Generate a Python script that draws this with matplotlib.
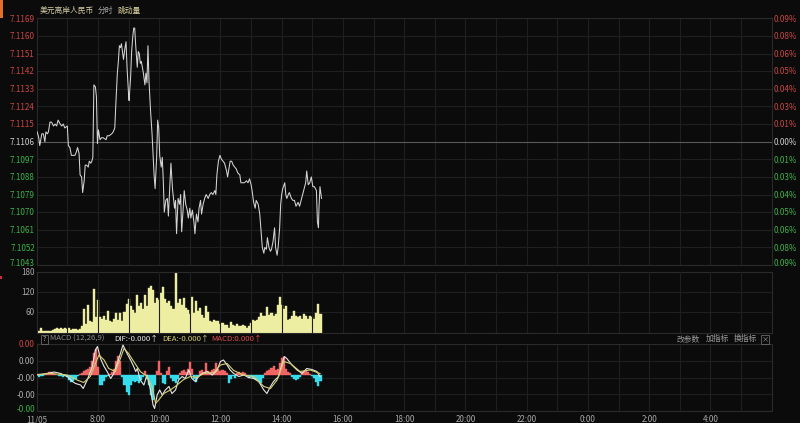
import matplotlib
matplotlib.use('Agg')
import matplotlib.pyplot as plt
from matplotlib.patches import Rectangle
from matplotlib.transforms import offset_copy
import numpy as np

plt.rcParams['font.family'] = ['Noto Sans CJK SC', 'DejaVu Sans']

# ---------------- data (minutes after 06:00 on 11/05) ----------------
price_min = [1, 4, 6, 10, 13, 16, 18, 21, 23, 26,
             29, 33, 36, 39, 42, 46, 49, 52, 55, 60,
             62, 65, 68, 72, 75, 78, 80, 83, 85, 88,
             90, 93, 95, 98, 101, 103, 106, 108, 110, 112,
             115, 117, 119, 121, 124, 127, 130, 136, 138, 142,
             147, 150, 153, 155, 158, 160, 162, 164, 166, 170,
             173, 175, 177, 180, 181, 184, 186, 188, 190, 192,
             194, 197, 199, 201, 203, 205, 209, 211, 212, 214,
             216, 218, 220, 223, 226, 228, 230, 232, 235, 237,
             239, 241, 244, 246, 248, 250, 253, 256, 258, 261,
             263, 266, 268, 270, 272, 274, 277, 280, 282, 284,
             287, 289, 292, 295, 297, 300, 302, 305, 308, 310,
             313, 316, 318, 321, 323, 326, 329, 332, 336, 339,
             342, 345, 349, 351, 353, 356, 359, 362, 365, 368,
             372, 374, 377, 379, 382, 385, 388, 391, 394, 398,
             400, 404, 407, 411, 414, 417, 420, 422, 425, 428,
             430, 434, 437, 439, 442, 445, 447, 450, 452, 455,
             458, 460, 463, 466, 468, 471, 473, 476, 478, 480,
             482, 486, 488, 490, 493, 495, 499, 502, 505, 508,
             512, 515, 518, 522, 524, 527, 529, 532, 535, 538,
             541, 544, 548, 550, 552, 553, 555, 558]
price_val = [7.1111, 7.1108, 7.1104, 7.1110, 7.1110, 7.1106, 7.1111, 7.1110, 7.1111, 7.1116,
             7.1116, 7.1114, 7.1115, 7.1114, 7.1117, 7.1115, 7.1114, 7.1115, 7.1113, 7.1114,
             7.1104, 7.1103, 7.1099, 7.1099, 7.1099, 7.1101, 7.1103, 7.1100, 7.1089, 7.1088,
             7.1080, 7.1086, 7.1094, 7.1094, 7.1093, 7.1096, 7.1095, 7.1096, 7.1098, 7.1135,
             7.1134, 7.1129, 7.1105, 7.1112, 7.1107, 7.1108, 7.1108, 7.1107, 7.1109, 7.1109,
             7.1110, 7.1111, 7.1113, 7.1125, 7.1141, 7.1147, 7.1155, 7.1154, 7.1156, 7.1148,
             7.1154, 7.1157, 7.1144, 7.1130, 7.1127, 7.1139, 7.1152, 7.1159, 7.1164, 7.1164,
             7.1155, 7.1144, 7.1152, 7.1151, 7.1146, 7.1147, 7.1141, 7.1137, 7.1135, 7.1141,
             7.1136, 7.1155, 7.1137, 7.1122, 7.1110, 7.1099, 7.1089, 7.1082, 7.1098, 7.1117,
             7.1113, 7.1099, 7.1093, 7.1098, 7.1086, 7.1070, 7.1076, 7.1077, 7.1068, 7.1084,
             7.1095, 7.1082, 7.1077, 7.1072, 7.1076, 7.1059, 7.1077, 7.1074, 7.1079, 7.1060,
             7.1072, 7.1081, 7.1074, 7.1071, 7.1067, 7.1072, 7.1067, 7.1071, 7.1065, 7.1059,
             7.1069, 7.1065, 7.1072, 7.1076, 7.1069, 7.1074, 7.1077, 7.1079, 7.1077, 7.1079,
             7.1080, 7.1079, 7.1081, 7.1079, 7.1089, 7.1096, 7.1099, 7.1097, 7.1096, 7.1095,
             7.1091, 7.1088, 7.1093, 7.1096, 7.1096, 7.1094, 7.1093, 7.1092, 7.1090, 7.1089,
             7.1085, 7.1085, 7.1085, 7.1086, 7.1085, 7.1087, 7.1084, 7.1081, 7.1075, 7.1072,
             7.1076, 7.1074, 7.1069, 7.1062, 7.1052, 7.1049, 7.1052, 7.1051, 7.1057, 7.1052,
             7.1050, 7.1051, 7.1055, 7.1062, 7.1052, 7.1048, 7.1052, 7.1062, 7.1074, 7.1079,
             7.1082, 7.1085, 7.1079, 7.1077, 7.1079, 7.1080, 7.1077, 7.1076, 7.1076, 7.1073,
             7.1075, 7.1073, 7.1076, 7.1080, 7.1082, 7.1085, 7.1091, 7.1084, 7.1085, 7.1088,
             7.1083, 7.1083, 7.1081, 7.1065, 7.1062, 7.1072, 7.1083, 7.1077]
prev_close = 7.1106

# volume, one reading every 4 minutes starting at 06:00
vol_step = 4
volume = [5, 3, 14, 3, 3, 4, 4, 4, 8, 10,
          12, 10, 12, 10, 14, 9, 12, 8, 11, 10,
          8, 9, 18, 68, 25, 80, 35, 30, 128, 45,
          95, 45, 40, 50, 38, 62, 35, 32, 40, 58,
          38, 58, 35, 60, 85, 100, 78, 65, 58, 112,
          78, 88, 68, 110, 78, 130, 138, 125, 88, 102,
          95, 118, 135, 98, 88, 92, 78, 68, 180, 88,
          98, 80, 102, 72, 65, 55, 105, 58, 92, 62,
          72, 52, 42, 78, 60, 34, 30, 38, 33, 34,
          25, 28, 22, 22, 14, 30, 22, 20, 25, 18,
          20, 22, 18, 14, 18, 28, 38, 34, 38, 46,
          58, 48, 50, 75, 52, 58, 48, 54, 80, 105,
          82, 68, 78, 38, 40, 50, 62, 48, 45, 50,
          40, 55, 48, 40, 50, 45, 40, 58, 83, 55]

# MACD histogram (x1e-5), one reading every 4 minutes
macd_hist = [-2, -4, -3, -2, 1, 3, 5, 6, 4, 2,
             -1, -2, -3, -4, -2, -4, -10, -14, -13, -8,
             -2, 2, 4, 8, 10, 12, 16, 28, 44, 52,
             15, -21, -20, -12, -4, -2, 2, 6, 12, 28,
             38, 28, -4, -20, -34, -40, -20, -12, -14, -12,
             -16, -10, -4, 8, -8, -20, -40, -50, -20, 8,
             28, 4, -16, -18, 8, 16, -6, -12, -16, -8,
             4, 8, 10, 6, 12, 26, 12, -8, -14, -4,
             8, 10, 6, 24, 8, 6, 10, 12, 24, 12,
             8, 10, 8, 4, -16, -8, -2, -6, 4, 6,
             4, 6, 4, -2, -6, -4, -6, -8, -10, -14,
             -16, -6, 4, 8, 10, 14, 18, 10, 12, 24,
             34, 36, 12, 6, 4, -4, -8, -10, -8, -4,
             6, 8, 10, 6, 2, -2, -6, -14, -22, -12]

dif_min = [1, 21, 34, 47, 60, 70, 76, 86, 91, 99,
           109, 115, 119, 125, 132, 138, 145, 151, 161, 169,
           177, 184, 190, 194, 197, 203, 210, 216, 223, 228,
           231, 236, 241, 246, 252, 259, 265, 272, 278, 285,
           291, 298, 304, 311, 317, 324, 334, 344, 353, 360,
           366, 373, 379, 386, 396, 406, 415, 425, 435, 445,
           451, 458, 464, 474, 480, 485, 490, 500, 510, 520,
           529, 539, 549, 555]
dif_val = [-1, 2, 5, 2, -4, -14, -18, -21, -28, -11,
           16, 49, 56, 32, 16, 6, -8, 2, 32, 59,
           42, 29, 16, 6, 12, -11, -21, -1, -31, -61,
           -68, -41, -31, -41, -31, -24, -38, -31, -11, -4,
           -8, 9, -8, -14, -4, 2, 6, -1, 8, 26,
           29, 19, 9, 2, -4, -1, -6, -8, -14, -31,
           -38, -24, -14, -4, 19, 36, 32, 19, 9, 2,
           12, 10, 6, -4]
dea_min = [1, 27, 60, 79, 92, 105, 115, 122, 132, 141,
           154, 164, 171, 180, 190, 203, 216, 226, 233, 239,
           249, 262, 275, 288, 301, 314, 327, 347, 360, 373,
           386, 405, 425, 445, 458, 471, 484, 497, 516, 536,
           555]
dea_val = [0, 2, -1, -11, -16, -4, 22, 39, 29, 12,
           6, 32, 52, 42, 26, 6, -4, -24, -58, -51,
           -38, -31, -21, -10, -4, -6, 2, 4, 19, 22,
           8, -1, -4, -24, -28, -11, 26, 22, 6, 9,
           2]

x_tick_labels = ['11/05', '8:00', '10:00', '12:00', '14:00', '16:00',
                 '18:00', '20:00', '22:00', '0:00', '2:00', '4:00']
vol_ticks = [60, 120, 180]
macd_top, macd_bottom = 0.00061, -0.00073

# ---------------- style ----------------
BG = '#0b0b0b'
GRID = '#1f1f1f'
SPINE = '#2a2a2a'
RED = '#cc4646'
GREEN = '#3cb44a'
FS = 5.8

W, H = 800, 423
fig = plt.figure(figsize=(8, 4.23), dpi=100, facecolor=BG)


def box(l, t, r, b):
    return [l / W, 1 - b / H, (r - l) / W, (b - t) / H]


ax_p = fig.add_axes(box(36.7, 18.3, 771.7, 265))
ax_v = fig.add_axes(box(36.7, 271.5, 771.7, 332.5))
ax_m = fig.add_axes(box(36.7, 344, 771.7, 411))

for ax in (ax_p, ax_v, ax_m):
    ax.set_facecolor(BG)
    ax.set_xlim(0, 1440)
    for s in ax.spines.values():
        s.set_color(SPINE)
        s.set_linewidth(0.8)
    ax.tick_params(length=0, pad=1.5, labelsize=FS)
    for hh in range(60, 1440, 60):
        ax.axvline(hh, color=GRID, lw=0.8, zorder=4 if ax is ax_v else 0.5)
    ax.set_xticks([])
    ax.set_yticks([])


def ylabel(ax, y, s, color, side='left', last=False):
    tr = offset_copy(ax.get_yaxis_transform(), fig=fig, x=0, y=-0.8, units='dots')
    va = 'baseline' if last else 'center'
    if side == 'left':
        ax.text(-0.0025, y, s, transform=tr, ha='right', va=va, color=color,
                fontsize=FS, clip_on=False)
    else:
        ax.text(1.003, y, s, transform=tr, ha='left', va=va, color=color,
                fontsize=FS, clip_on=False)


# ---- price panel ----
ticks = np.round(np.linspace(7.1043, 7.1169, 15), 4)
ax_p.set_ylim(ticks[0], ticks[-1])
for i, t in enumerate(ticks):
    if abs(t - prev_close) < 1e-6:
        ax_p.axhline(t, color='#5a5a5a', lw=0.8, zorder=1)
        c = '#d0d0d0'
    else:
        ax_p.axhline(t, color=GRID, lw=0.8, zorder=0.5)
        c = RED if t > prev_close else GREEN
    ylabel(ax_p, t, f'{t:.4f}', c, 'left', last=(i == 0))
    ylabel(ax_p, t, f'{abs(t - prev_close) / prev_close * 100:.2f}%', c, 'right', last=(i == 0))
ax_p.plot(price_min, price_val, color='#d4d4d4', lw=0.75, zorder=3)

# ---- volume panel ----
vt = np.arange(len(volume)) * vol_step
ax_v.bar(vt, volume, width=vol_step, color='#eeeea2', edgecolor='#eeeea2',
         linewidth=0.3, zorder=2)
ax_v.set_ylim(0, 180)
for v in vol_ticks:
    ax_v.axhline(v, color=GRID, lw=0.8, zorder=0.5)
    ylabel(ax_v, v, str(v), '#a8a8a8')

# ---- MACD panel ----
mt = np.arange(len(macd_hist)) * vol_step
hv = np.array(macd_hist) * 1e-5
cols = np.where(hv >= 0, '#f06464', '#36dcec')
ax_m.bar(mt, hv, width=vol_step, color=cols, edgecolor=cols, linewidth=0.3, zorder=2)
ax_m.plot(dif_min, np.array(dif_val) * 1e-5, color='#e6e6e6', lw=0.8, zorder=3)
ax_m.plot(dea_min, np.array(dea_val) * 1e-5, color='#d6cf72', lw=0.8, zorder=3)
ax_m.set_ylim(macd_bottom, macd_top)
mticks = np.linspace(macd_top, macd_bottom, 5)
for i, t in enumerate(mticks):
    ax_m.axhline(t, color=GRID, lw=0.8, zorder=0.5)
    ylabel(ax_m, t, f'{t:.2f}', RED if i == 0 else (GREEN if i == 4 else '#b0b0b0'),
           last=(i == 4))
ax_m.set_xticks(np.arange(0, 1440, 120))
ax_m.set_xticklabels(x_tick_labels, color='#a8a8a8')
ax_m.tick_params(axis='x', pad=3)

# ---- header texts ----
fig.text(40 / W, 1 - 10.5 / H, '美元离岸人民币', color='#d4cca4', fontsize=5.6, va='center')
fig.text(98 / W, 1 - 10.5 / H, '分时', color='#a8a8a8', fontsize=5.6, va='center')
fig.text(118 / W, 1 - 10.5 / H, '跳动量', color='#dcd39c', fontsize=5.6, va='center')

ym = 1 - 339 / H
fig.patches.append(Rectangle((41 / W, 1 - 343.5 / H), 6.5 / W, 8.5 / H, transform=fig.transFigure,
                             fill=False, ec='#6a6a6a', lw=0.6))
fig.text(44.3 / W, ym, '?', color='#b0b0b0', fontsize=4.8, va='center', ha='center')
fig.text(50 / W, ym, 'MACD (12,26,9)', color='#8c8c8c', fontsize=5.6, va='center')
fig.text(114 / W, ym, 'DIF:-0.000↑', color='#e8e8e8', fontsize=5.6, va='center')
fig.text(162 / W, ym, 'DEA:-0.000↑', color='#d6cf72', fontsize=5.6, va='center')
fig.text(211 / W, ym, 'MACD:0.000↑', color='#e05050', fontsize=5.6, va='center')
fig.text(677 / W, ym, '改参数', color='#9a9a9a', fontsize=5.6, va='center')
fig.text(706 / W, ym, '加指标', color='#9a9a9a', fontsize=5.6, va='center')
fig.text(734 / W, ym, '换指标', color='#9a9a9a', fontsize=5.6, va='center')
fig.patches.append(Rectangle((761 / W, 1 - 343.5 / H), 8 / W, 8.5 / H, transform=fig.transFigure,
                             fill=False, ec='#6a6a6a', lw=0.6))
fig.text(765 / W, ym, '×', color='#9a9a9a', fontsize=5.2, va='center', ha='center')

# left edge marks
fig.patches.append(Rectangle((0, 1 - 18 / H), 2.5 / W, 18 / H, transform=fig.transFigure,
                             fc='#e0702a', ec='none'))
fig.patches.append(Rectangle((0, 1 - 279 / H), 1.5 / W, 3 / H, transform=fig.transFigure,
                             fc='#c83030', ec='none'))

fig.savefig('out.png', dpi=100, facecolor=BG)
